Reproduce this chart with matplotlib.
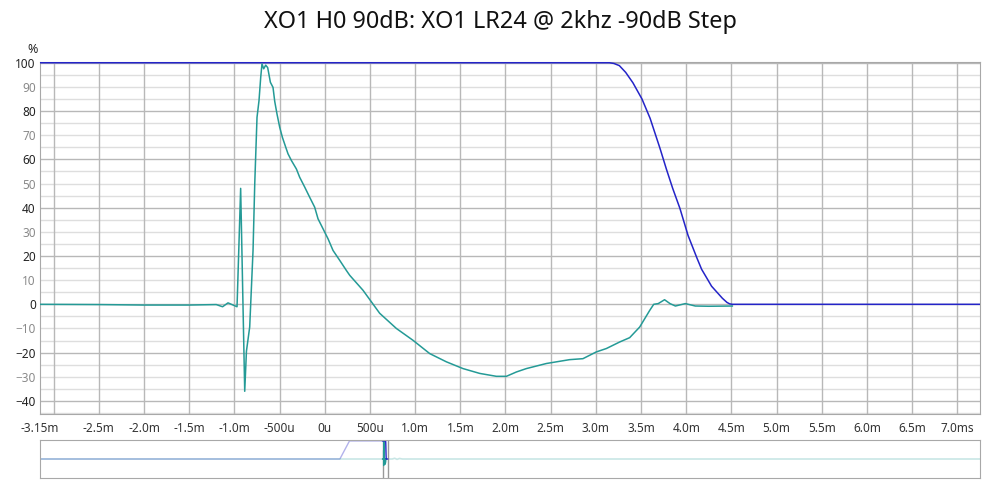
import matplotlib
matplotlib.use('Agg')
import matplotlib.pyplot as plt
import numpy as np

plt.rcParams['font.family'] = ['Noto Sans', 'DejaVu Sans']

# step response of the crossover, time in ms, level in %
blue_t = [-3.15, 3.15, 3.20, 3.26, 3.33, 3.41, 3.51, 3.60, 3.71, 3.78,
          3.85, 3.93, 4.02, 4.12, 4.17, 4.23, 4.28, 4.34, 4.40, 4.45,
          4.48, 4.51, 7.25]
blue_v = [100, 100, 99.7, 98.8, 96, 91.7, 85, 77, 64.5, 56,
          48, 39.7, 28.5, 19, 14.5, 10.7, 7.5, 5, 2.5, 0.8,
          0.2, 0, 0]

teal_t = [-3.15, -2.5, -2.0, -1.5, -1.2, -1.13, -1.07, -0.97, -0.93, -0.885,
          -0.866, -0.830, -0.793, -0.774, -0.749, -0.727, -0.708, -0.694, -0.675, -0.653,
          -0.631, -0.601, -0.572, -0.553, -0.528, -0.498, -0.468, -0.431, -0.406, -0.368,
          -0.313, -0.277, -0.221, -0.166, -0.111, -0.074, -0.019, 0.037, 0.092, 0.166,
          0.240, 0.277, 0.424, 0.608, 0.793, 0.977, 1.162, 1.346, 1.530, 1.715,
          1.899, 2.010, 2.121, 2.231, 2.452, 2.710, 2.857, 3.005, 3.116, 3.263,
          3.374, 3.485, 3.596, 3.64, 3.69, 3.76, 3.82, 3.88, 3.99, 4.10,
          4.25, 4.51]
teal_v = [0, -0.1, -0.3, -0.3, -0.1, -1.0, 0.6, -1.0, 48, -36,
          -19.4, -9.4, 22.3, 50, 77.4, 84.3, 94, 99.5, 97.5, 99,
          98, 91.9, 89.8, 84, 78.8, 73.3, 69.1, 65, 62.3, 59.5,
          56, 52.6, 48.5, 44.3, 40.2, 35.4, 31.3, 27.1, 22.3, 18.2,
          14, 12, 5.8, -3.7, -10, -14.9, -20.4, -23.8, -26.6, -28.6,
          -29.8, -29.8, -28, -26.6, -24.5, -22.9, -22.5, -19.7, -18.3, -15.6,
          -13.8, -9.4, -2.5, 0, 0.3, 1.9, 0.3, -0.7, 0.3, -0.7,
          -0.8, -0.7]

x_ticks = [-3.15, -2.5, -2.0, -1.5, -1.0, -0.5, 0.0, 0.5, 1.0, 1.5, 2.0, 2.5,
           3.0, 3.5, 4.0, 4.5, 5.0, 5.5, 6.0, 6.5, 7.0]
x_labels = ['-3.15m', '-2.5m', '-2.0m', '-1.5m', '-1.0m', '-500u', '0u', '500u',
            '1.0m', '1.5m', '2.0m', '2.5m', '3.0m', '3.5m', '4.0m', '4.5m',
            '5.0m', '5.5m', '6.0m', '6.5m', '7.0ms']

# overview strip (whole capture, ms)
ov_blue_t = [-716, -92, -72, -3.15]
ov_blue_v = [0, 0, 100, 100]
ov_teal_t = [-716, -3.15, 7.25, 17, 22, 27, 32, 38, 1240]
ov_teal_v = [0, 0, 0, 0, 4, -2, 3, 0, 0]

blue = '#2424c8'
teal = '#249a96'
grid_dark = '#b8b8b8'
grid_light = '#dedede'
frame = '#a8a8a8'

fig = plt.figure(figsize=(10, 4.8), dpi=100)
ax = fig.add_axes([0.04, 0.1375, 0.94, 0.7333])

# grid
for y in range(-45, 101, 5):
    if y % 20 == 0:
        ax.axhline(y, color=grid_dark, lw=1, zorder=0)
    else:
        ax.axhline(y, color=grid_light, lw=1, zorder=0)
for x in np.arange(-3.0, 7.01, 0.5):
    ax.axvline(x, color=grid_dark, lw=1, zorder=0)

ax.plot(blue_t, blue_v, color=blue, lw=1.1, zorder=3)
ax.plot(teal_t, teal_v, color=teal, lw=1.1, zorder=4)

ax.set_xlim(-3.15, 7.25)
ax.set_ylim(-45.4, 100.3)
ax.set_xticks(x_ticks)
ax.set_xticklabels(x_labels)
ax.set_yticks(range(-40, 101, 10))
ax.tick_params(length=0, labelsize=8.5, colors='#333333', pad=6)
ax.tick_params(axis='y', pad=3)
for lab, v in zip(ax.get_yticklabels(), range(-40, 101, 10)):
    lab.set_color('#222222' if v % 20 == 0 else '#8a8a8a')
for s in ax.spines.values():
    s.set_color(frame)
ax.text(-0.002, 1.018, '%', transform=ax.transAxes, ha='right', va='bottom',
        fontsize=9, color='#222222')

fig.text(0.5, 0.954, 'XO1 H0 90dB: XO1 LR24 @ 2khz -90dB Step', ha='center',
         va='center', fontsize=16.9, color='#111111')

# overview
ov = fig.add_axes([0.04, 0.0042, 0.94, 0.0791])
ov.plot(ov_blue_t, ov_blue_v, color=blue, alpha=0.35, lw=1)
ov.plot(ov_teal_t, ov_teal_v, color=teal, alpha=0.25, lw=1.2)
ov.axvline(-3.15, color='#999999', lw=1)
ov.axvline(7.25, color='#999999', lw=1)
ov.plot(teal_t, teal_v, color=teal, lw=1)
ov.plot(blue_t, blue_v, color=blue, lw=1)
ov.set_xlim(-716, 1240)
ov.set_ylim(-105, 105)
ov.set_xticks([])
ov.set_yticks([])
for s in ov.spines.values():
    s.set_color(frame)

fig.savefig('out.png', dpi=100)
